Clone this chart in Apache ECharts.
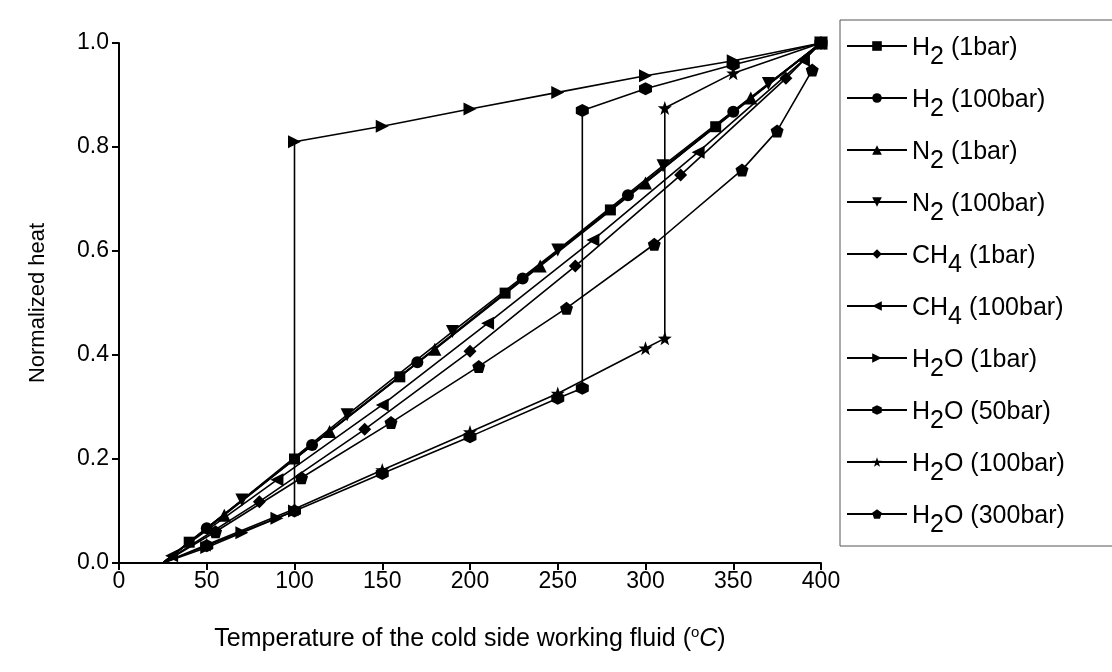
<!DOCTYPE html>
<html>
<head>
<meta charset="utf-8">
<script src="https://cdn.jsdelivr.net/npm/echarts@6/dist/echarts.min.js"></script>
<style>html,body{margin:0;padding:0;background:#fff;}#c{width:1112px;height:672px;}</style>
</head>
<body>
<div id="c"></div>
<script>
// ---- data (temperature in °C, normalized heat) ----
const seriesNames = ['H2 (1bar)', 'H2 (100bar)', 'N2 (1bar)', 'N2 (100bar)', 'CH4 (1bar)', 'CH4 (100bar)', 'H2O (1bar)', 'H2O (50bar)', 'H2O (100bar)', 'H2O (300bar)'];

const H2_1bar_T = [25, 40, 100, 160, 220, 280, 340, 400];
const H2_1bar_Q = [0, 0.04, 0.2, 0.358, 0.519, 0.679, 0.839, 1.0];
const H2_100bar_T = [25, 50, 110, 170, 230, 290, 350, 400];
const H2_100bar_Q = [0, 0.067, 0.227, 0.386, 0.547, 0.707, 0.868, 1.0];
const N2_1bar_T = [25, 60, 120, 180, 240, 300, 360, 400];
const N2_1bar_Q = [0, 0.092, 0.253, 0.411, 0.571, 0.731, 0.894, 1.0];
const N2_100bar_T = [25, 70, 130, 190, 250, 310, 370, 400];
const N2_100bar_Q = [0, 0.121, 0.285, 0.445, 0.602, 0.764, 0.922, 1.0];
const CH4_1bar_T = [25, 80, 140, 200, 260, 320, 380, 400];
const CH4_1bar_Q = [0, 0.118, 0.257, 0.407, 0.571, 0.746, 0.932, 1.0];
const CH4_100bar_T = [25, 30, 90, 150, 210, 270, 330, 390, 400];
const CH4_100bar_Q = [0, 0.014, 0.16, 0.304, 0.461, 0.621, 0.79, 0.967, 1.0];
const H2O_1bar_T = [25, 50, 70, 90, 100, 100, 150, 200, 250, 300, 350, 400];
const H2O_1bar_Q = [0, 0.03, 0.058, 0.086, 0.1, 0.81, 0.84, 0.873, 0.905, 0.937, 0.966, 1.0];
const H2O_50bar_T = [25, 50, 100, 150, 200, 250, 264, 264, 300, 350, 400];
const H2O_50bar_Q = [0, 0.033, 0.1, 0.172, 0.243, 0.317, 0.336, 0.87, 0.912, 0.958, 1.0];
const H2O_100bar_T = [25, 50, 100, 150, 200, 250, 300, 311, 311, 350, 400];
const H2O_100bar_Q = [0, 0.035, 0.104, 0.179, 0.252, 0.326, 0.413, 0.432, 0.875, 0.942, 1.0];
const H2O_300bar_T = [25, 55, 104, 155, 205, 255, 305, 355, 375, 395];
const H2O_300bar_Q = [0, 0.06, 0.164, 0.27, 0.378, 0.49, 0.613, 0.756, 0.831, 0.948];

const xTicks = [0, 50, 100, 150, 200, 250, 300, 350, 400];
const yTicks = [0.0, 0.2, 0.4, 0.6, 0.8, 1.0];

// ---- styles ----
const SYM = {
  square: 'rect',
  circle: 'circle',
  up: 'path://M0,-10 L10,8 L-10,8 Z',
  down: 'path://M-10,-8 L10,-8 L0,10 Z',
  diamond: 'path://M0,-10 L10,0 L0,10 L-10,0 Z',
  left: 'path://M-10,0 L8,-10 L8,10 Z',
  right: 'path://M10,0 L-8,-10 L-8,10 Z',
  hexagon: 'path://M0,-10 L8.66,-5 L8.66,5 L0,10 L-8.66,5 L-8.66,-5 Z',
  star: 'path://M0,-10 L2.35,-3.24 L9.51,-3.09 L3.80,1.23 L5.88,8.09 L0,4 L-5.88,8.09 L-3.80,1.23 L-9.51,-3.09 L-2.35,-3.24 Z',
  pentagon: 'path://M0,-10 L9.51,-3.09 L5.88,8.09 L-5.88,8.09 L-9.51,-3.09 Z'
};

function pairs(T, Q) { return T.map((t, i) => [t, Q[i]]); }

const defs = [
  [H2_1bar_T, H2_1bar_Q, SYM.square, 11],
  [H2_100bar_T, H2_100bar_Q, SYM.circle, 12],
  [N2_1bar_T, N2_1bar_Q, SYM.up, 13],
  [N2_100bar_T, N2_100bar_Q, SYM.down, 13],
  [CH4_1bar_T, CH4_1bar_Q, SYM.diamond, 13],
  [CH4_100bar_T, CH4_100bar_Q, SYM.left, 13],
  [H2O_1bar_T, H2O_1bar_Q, SYM.right, 13],
  [H2O_50bar_T, H2O_50bar_Q, SYM.hexagon, 13],
  [H2O_100bar_T, H2O_100bar_Q, SYM.star, 14],
  [H2O_300bar_T, H2O_300bar_Q, SYM.pentagon, 13]
];

const series = defs.map((d, k) => ({
  name: seriesNames[k],
  type: 'line',
  data: pairs(d[0], d[1]),
  symbol: d[2],
  symbolSize: (v, p) => (p.dataIndex === 0 ? 0 : d[3]),
  showSymbol: true,
  showAllSymbol: true,
  color: '#000',
  lineStyle: { color: '#000', width: 1.6 },
  itemStyle: { color: '#000' },
  animation: false
}));

function legendRich(name) {
  const m = name.match(/^([A-Za-z]+?)(\d)(O?)( .*)$/);
  if (!m) return '{n|' + name + '}';
  return '{n|' + m[1] + '}{s|' + m[2] + '}{n|' + m[3] + m[4] + '}';
}

const FONT = 'Liberation Sans, Arial, Helvetica, sans-serif';

const option = {
  backgroundColor: '#fff',
  animation: false,
  textStyle: { fontFamily: FONT, color: '#000' },
  grid: { left: 119, right: 291, top: 43, bottom: 109, containLabel: false },
  legend: {
    orient: 'vertical',
    left: 840,
    top: 20,
    padding: [12, 80, 8, 6],
    itemWidth: 60,
    itemHeight: 12,
    itemGap: 14,
    borderColor: '#555',
    borderWidth: 1,
    data: seriesNames,
    formatter: legendRich,
    textStyle: {
      fontFamily: FONT,
      color: '#000',
      rich: {
        n: { fontSize: 25, fontFamily: FONT, color: '#000', lineHeight: 28, verticalAlign: 'top', padding: [4, 0, 0, 0] },
        s: { fontSize: 25, fontFamily: FONT, color: '#000', lineHeight: 28, verticalAlign: 'top', padding: [13, 0, 0, 0] }
      }
    }
  },
  xAxis: {
    type: 'value',
    min: xTicks[0],
    max: xTicks[xTicks.length - 1],
    interval: xTicks[1] - xTicks[0],
    name: '{n|Temperature of the cold side working fluid (}{sup|o}{it|C}{n|)}',
    nameLocation: 'middle',
    nameGap: 62,
    nameTextStyle: {
      rich: {
        n: { fontSize: 25, fontFamily: FONT, color: '#000' },
        sup: { fontSize: 15, fontFamily: FONT, color: '#000', padding: [0, 0, 14, 0] },
        it: { fontSize: 25, fontFamily: FONT, fontStyle: 'italic', color: '#000' }
      }
    },
    axisLine: { lineStyle: { color: '#000', width: 2 } },
    axisTick: { inside: false, length: 7, lineStyle: { color: '#000', width: 2 } },
    axisLabel: { fontSize: 23, color: '#000', fontFamily: FONT, margin: 7 },
    splitLine: { show: false }
  },
  yAxis: {
    type: 'value',
    min: yTicks[0],
    max: yTicks[yTicks.length - 1],
    interval: 0.2,
    name: 'Normalized heat',
    nameLocation: 'middle',
    nameGap: 70,
    nameTextStyle: { fontSize: 22, fontFamily: FONT, color: '#000' },
    axisLine: { show: true, lineStyle: { color: '#000', width: 2 } },
    axisTick: { show: true, inside: false, length: 7, lineStyle: { color: '#000', width: 2 } },
    axisLabel: { fontSize: 23, color: '#000', fontFamily: FONT, margin: 10, formatter: v => v.toFixed(1) },
    splitLine: { show: false }
  },
  series: series
};

const chart = echarts.init(document.getElementById('c'), null, { renderer: 'canvas' });
chart.setOption(option);
</script>
</body>
</html>
